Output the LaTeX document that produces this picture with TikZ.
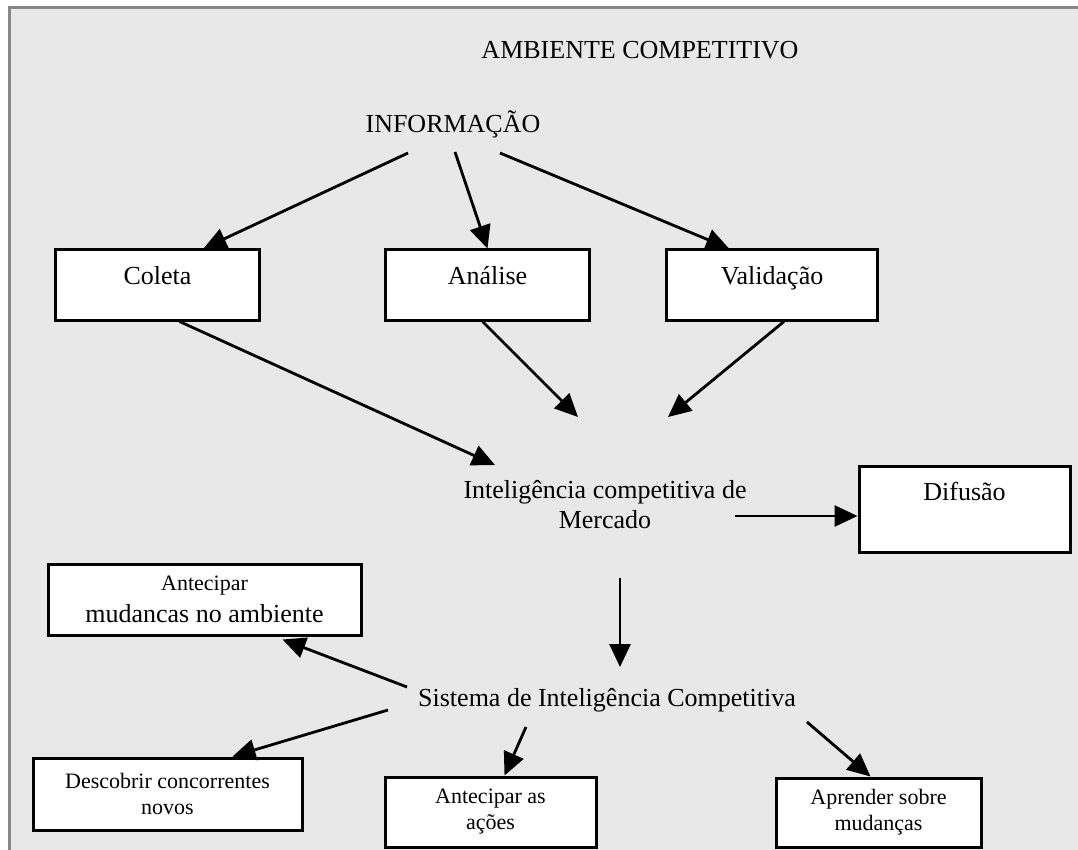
\documentclass[tikz,border=0pt]{standalone}
\usepackage{fontspec}
\setmainfont{Liberation Serif}
\usepackage{tikz}
\usetikzlibrary{arrows.meta, positioning, calc}
\definecolor{fundo}{HTML}{E8E8E8}
\definecolor{moldura}{HTML}{878787}
\tikzset{
  moldura_f/.style={draw=moldura,line width=3pt},
  texto/.style={font=\fontsize{26}{30}\selectfont,inner sep=0pt,align=center},
  etapa/.style={draw=black,line width=3pt,fill=white,font=\fontsize{26}{30}\selectfont,inner xsep=4pt,inner ysep=8pt,text height=26pt},
  etapa_t/.style={etapa,text depth=28pt},
  meta/.style={draw=black,line width=3pt,fill=white,font=\fontsize{22}{26}\selectfont,align=center,inner sep=4pt},
  relation/.style={line width=2.8pt,-{Triangle[length=23pt,width=21pt]},black},
}
\begin{document}
\begin{tikzpicture}[x=1pt,y=-1pt]
	    \useasboundingbox (0,0) rectangle (1078,850);
	    \fill[fundo] (9,8) rectangle (1078,850);
	    \draw[moldura_f] (9,850) -- (9,8) -- (1078,8);
	    \node[texto] (amb) at (640,50) {AMBIENTE COMPETITIVO};
	    \node[texto] (info) at (453,124) {INFORMAÇÃO};
	    \node[etapa_t,minimum width=204pt] (C1) at (157.5,285) {Coleta};
	    \node[etapa_t,minimum width=204pt,right=123pt of C1] (C2) {Análise};
	    \node[etapa_t,minimum width=211pt,right=74pt of C2] (C3) {Validação};
	    \node[texto] (merc) at (605,505) {Inteligência competitiva de\\Mercado};
	    \node[etapa,text depth=44pt,minimum width=211pt] (dif) at (964.5,509) {Difusão};
	    \node[texto] (sis) at (607,700) {Sistema de Inteligência Competitiva};
	    \node[meta,minimum width=313pt,minimum height=71pt] (ant) at (204.5,599.5)
	    	{Antecipar\\[6pt]\fontsize{26}{30}\selectfont mudancas no ambiente};
	    \node[meta,minimum width=269pt,minimum height=72pt] (desc) at (167.5,794) {Descobrir concorrentes\\novos};
	    \node[meta,minimum width=211pt,minimum height=70pt] (acoes) at (490.5,812) {Antecipar as\\ações};
	    \node[meta,minimum width=205pt,minimum height=69pt] (apr) at (878.5,812.5) {Aprender sobre\\mudanças};
	    \draw ([xshift=-45pt,yshift=-29pt]info.center) edge[relation] ([xshift=46pt]C1.north);
	    \draw ([xshift=2pt,yshift=-28pt]info.center) edge[relation] (C2.north);
	    \draw ([xshift=47pt,yshift=-29pt]info.center) edge[relation] ([xshift=-43pt]C3.north);
	    \draw ([xshift=22pt]C1.south) edge[relation] ([xshift=-110pt,yshift=40pt]merc.center);
	    \draw ([xshift=-5pt]C2.south) edge[relation] ([xshift=-27pt,yshift=88pt]merc.center);
	    \draw ([xshift=12pt]C3.south) edge[relation] ([xshift=63pt,yshift=88pt]merc.center);
	    \draw ([xshift=130pt,yshift=-11pt]merc.center) edge[relation] ([yshift=-7pt]dif.west);
	    \draw ([xshift=15pt,yshift=-73pt]merc.center) edge[relation] ([xshift=13pt,yshift=33pt]sis.center);
	    \draw ([xshift=-200pt,yshift=13pt]sis.center) edge[relation] ([xshift=78pt,yshift=-3pt]ant.south);
	    \draw ([xshift=-219pt,yshift=-10pt]sis.center) edge[relation] ([xshift=65pt]desc.north);
	    \draw ([xshift=-81pt,yshift=-27pt]sis.center) edge[relation] ([xshift=14pt]acoes.north);
	    \draw ([xshift=200pt,yshift=-22pt]sis.center) edge[relation] ([xshift=-8pt]apr.north);
	    %\node[texto,below=1cm of sis] (extra) {};
	\end{tikzpicture}
\end{document}
